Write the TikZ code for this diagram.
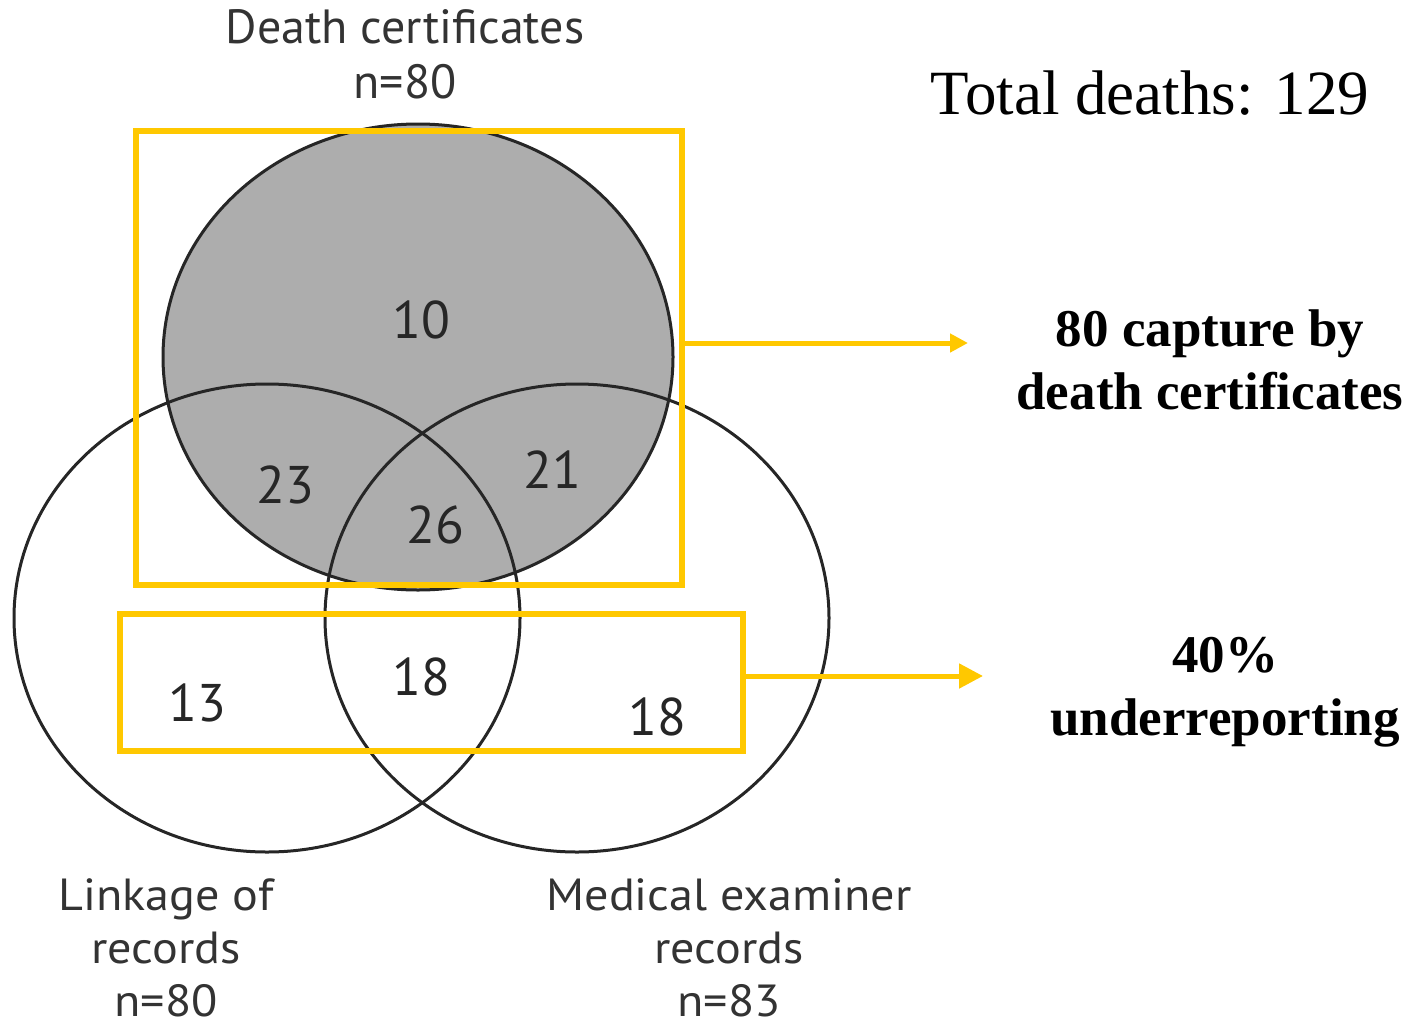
\documentclass[tikz,border=0pt]{standalone}
\usepackage{fontspec}
\setmainfont{Liberation Serif}
\newfontfamily\lblfont{PT Sans}
\usetikzlibrary{arrows.meta}
\definecolor{gold}{HTML}{FFC800}
\definecolor{dcgray}{HTML}{ADADAD}
\begin{document}
\begin{tikzpicture}[x=1pt,y=-1pt,
  setline/.style={line width=3pt, draw=black!85},
  goldbox/.style={draw=gold, line width=5.5pt, inner sep=0pt, outer sep=0pt, rectangle},
  goldarrowA/.style={draw=gold, line width=5pt, -{Triangle[length=18pt,width=18pt]}},
  goldarrowB/.style={draw=gold, line width=5pt, -{Triangle[length=24pt,width=24pt]}},
  num/.style={font=\lblfont\fontsize{53}{53}\selectfont, text=black!85},
  lbl/.style={font=\lblfont\fontsize{45}{53}\selectfont, text=black!80, align=center, inner sep=0pt},
  note/.style={font=\bfseries\fontsize{53}{63}\selectfont, align=center}]
\useasboundingbox (0,0) rectangle (1422,1028);
% shaded death-certificate set
\fill[fill=dcgray] (418,357) ellipse [x radius=255, y radius=233];
% set outlines
\draw[setline] (418,357) ellipse [x radius=255, y radius=233];
\draw[setline] (267,618) ellipse [x radius=253, y radius=234];
\draw[setline] (577,618) ellipse [x radius=252, y radius=234];
% highlight boxes
\node[goldbox, minimum width=546pt, minimum height=454pt] (r1) at (409,358) {};
\node[goldbox, minimum width=623pt, minimum height=137pt] (r2) at (431.5,682.5) {};
\coordinate (e1) at (968,343);
\coordinate (e2) at (983,676);
\draw[goldarrowA] ([yshift=15pt]r1.east) -- (e1);
\draw[goldarrowB] ([yshift=6.5pt]r2.east) -- (e2);
% region counts
\node[num] (n10) at (421,320) {10};
\node[num] (n23) at (285,485) {23};
\node[num] (n26) at (435,525) {26};
\node[num] (n21) at (552,470) {21};
\node[num] (n13) at (197,703) {13};
\node[num] (n18a) at (421,677) {18};
\node[num] (n18b) at (657,717) {18};
% set labels
\node[lbl, font=\lblfont\fontsize{48}{55}\selectfont] (ldc) at (405,54) {Death certificates\\n=80};
\node[lbl, xscale=1.07] (llr) at (166,948) {Linkage of\\records\\n=80};
\node[lbl, xscale=1.07] (lme) at (729,948) {Medical examiner\\records\\n=83};
% notes
\node[font=\fontsize{63}{63}\selectfont] (tot) at (1150,93) {Total deaths: 129};
\node[note] (c1) at (1210,360) {80 capture by\\death certificates};
\node[note] (c2) at (1225,692) {40\%\\underreporting};
\end{tikzpicture}
\end{document}
